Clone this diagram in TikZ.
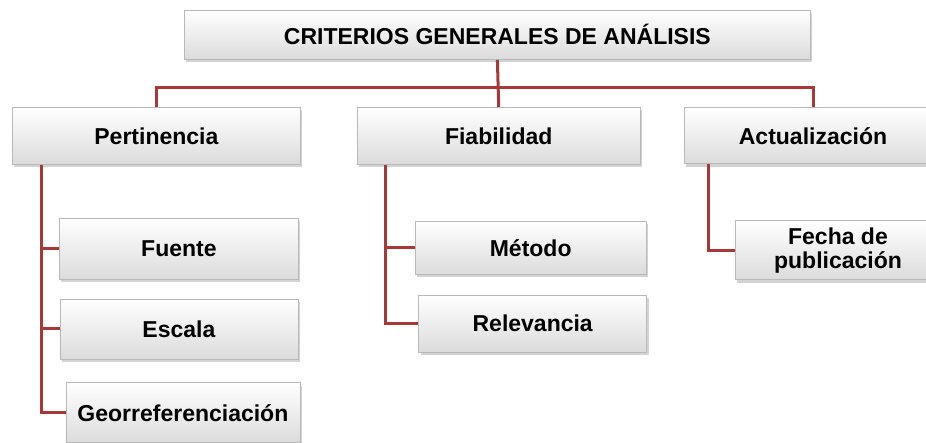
\documentclass[tikz,border=0pt]{standalone}
\usepackage{fontspec}
\setmainfont{Liberation Sans}
\usepackage{tikz}
\usetikzlibrary{positioning,shadows}

\definecolor{linkred}{RGB}{166,56,56}

\begin{document}
\begin{tikzpicture}[
    x=1pt, y=1pt,
    box/.style={rectangle, draw=gray!55, line width=0.8pt, top color=white, bottom color=gray!28,
        drop shadow={shadow xshift=2pt, shadow yshift=-3pt, opacity=0.35},
        align=center, inner sep=2pt, font=\fontsize{23}{24}\selectfont\bfseries},
    link/.style={draw=linkred, line width=3pt}
]
\clip (0,0) rectangle (926,443);

% Nodes
\node[box, anchor=north west, minimum width=626pt, minimum height=49pt] (title) at (184,433) {CRITERIOS GENERALES DE ANÁLISIS};

\node[box, anchor=north west, minimum width=288pt, minimum height=57pt] (pert) at (12,336) {Pertinencia};
\node[box, right=56pt of pert, minimum width=283pt, minimum height=57pt] (fiab) {Fiabilidad};
\node[box, right=43pt of fiab, minimum width=258pt, minimum height=56pt] (actu) {Actualización};

\node[box, below right=53pt and 47pt of pert.south west, anchor=north west, minimum width=239pt, minimum height=61pt] (fuente) {Fuente};
\node[box, below=19pt of fuente, minimum width=238pt, minimum height=60pt] (escala) {Escala};
\node[box, below=23pt of escala, xshift=4pt, minimum width=234pt, minimum height=60pt] (georr) {Georreferenciación};

\node[box, below right=56pt and 58pt of fiab.south west, anchor=north west, minimum width=231pt, minimum height=53pt] (metodo) {Método};
\node[box, below=20pt of metodo, xshift=2pt, minimum width=228pt, minimum height=57pt] (relev) {Relevancia};

\node[box, below right=56pt and 51pt of actu.south west, anchor=north west, minimum width=206pt, minimum height=59pt] (fecha) {Fecha de\\publicación};

% Edges
\draw[link] (title.south) -- (fiab.north);
\draw[link] (pert.north) -- ++(0,19) -| (actu.north);

\draw[link] ([xshift=29pt]pert.south west) |- (fuente.west);
\draw[link] ([xshift=29pt]pert.south west) |- (escala.west);
\draw[link] ([xshift=29pt]pert.south west) |- (georr.west);

\draw[link] ([xshift=29pt]fiab.south west) |- (metodo.west);
\draw[link] ([xshift=29pt]fiab.south west) |- (relev.west);

\draw[link] ([xshift=25pt]actu.south west) |- (fecha.west);

\end{tikzpicture}
\end{document}
